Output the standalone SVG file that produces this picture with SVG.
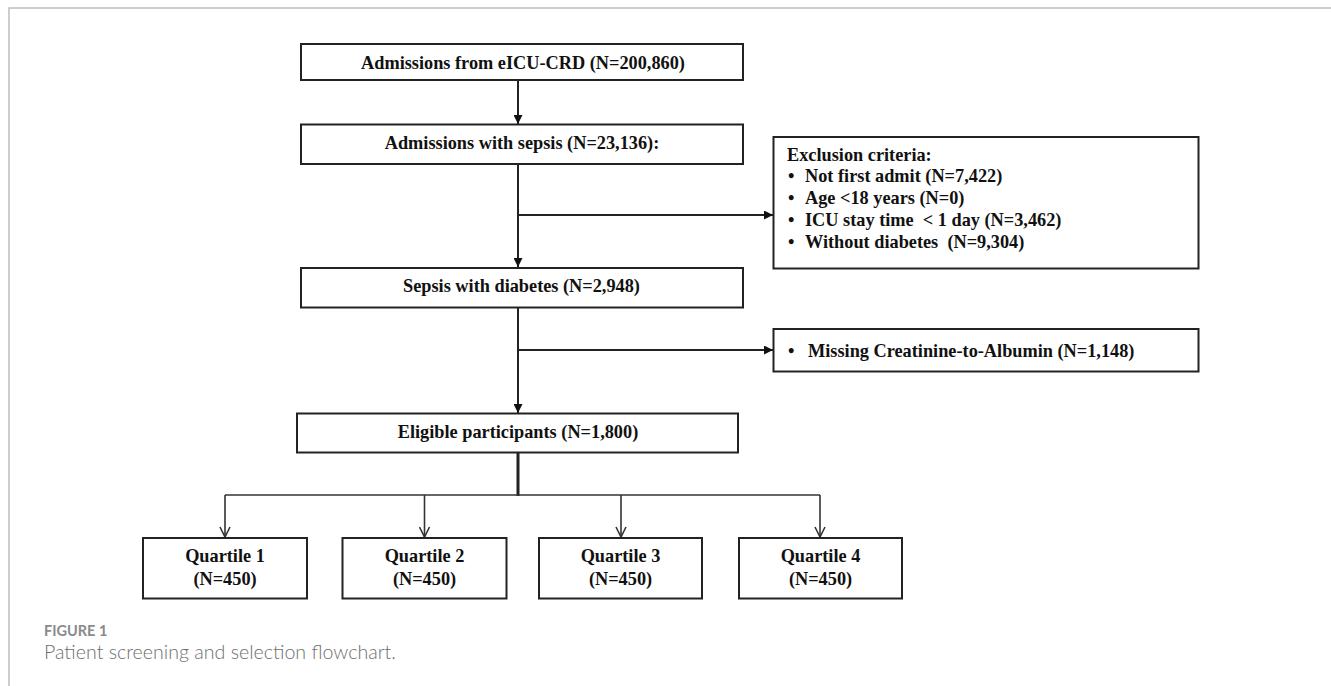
<svg xmlns="http://www.w3.org/2000/svg" width="1331" height="686" viewBox="0 0 1331 686">
<style>
.box{fill:#fff;stroke:#222;stroke-width:2}
.t{font-family:"Liberation Serif","Times New Roman",serif;font-weight:bold;font-size:18.3px;fill:#111}
.c{text-anchor:middle}
.ln{fill:none;stroke:#222;stroke-width:2}
.thin{fill:none;stroke:#333;stroke-width:1.6}
.frame{fill:none;stroke:#bdbdbd;stroke-width:1.5}
.cap1{font-family:Lato,"Open Sans",sans-serif;font-weight:bold;font-size:14.5px;fill:#8a8a8a}
.cap2{font-family:Lato,"Open Sans",sans-serif;font-weight:300;font-size:19.6px;fill:#6e6e6e}
</style>
<defs>
<marker id="fa" markerWidth="9" markerHeight="9" refX="9" refY="4.5" orient="auto" markerUnits="userSpaceOnUse">
<path d="M0,0 L9,4.5 L0,9 Z" fill="#111"/>
</marker>
<marker id="oa" markerWidth="12" markerHeight="12" refX="11" refY="6" orient="auto" markerUnits="userSpaceOnUse">
<path d="M1,1 L11,6 L1,11" fill="none" stroke="#333" stroke-width="1.6"/>
</marker>
</defs>
<rect width="1331" height="686" fill="#fff"/>
<path class="frame" d="M9,686 L9,8 L1331,8"/>

<g id="connectors">
<line class="ln" x1="518" y1="81" x2="518" y2="124" marker-end="url(#fa)"/>
<line class="ln" x1="518" y1="165" x2="518" y2="267" marker-end="url(#fa)"/>
<line class="ln" x1="518" y1="215" x2="773" y2="215" marker-end="url(#fa)"/>
<line class="ln" x1="518" y1="308" x2="518" y2="413" marker-end="url(#fa)"/>
<line class="ln" x1="518" y1="350" x2="773" y2="350" marker-end="url(#fa)"/>
<line x1="518" y1="453" x2="518" y2="496" stroke="#222" stroke-width="3"/>
<line class="thin" x1="225" y1="495" x2="820" y2="495"/>
<line class="thin" x1="225" y1="495" x2="225" y2="537" marker-end="url(#oa)"/>
<line class="thin" x1="424.5" y1="495" x2="424.5" y2="537" marker-end="url(#oa)"/>
<line class="thin" x1="621" y1="495" x2="621" y2="537" marker-end="url(#oa)"/>
<line class="thin" x1="820" y1="495" x2="820" y2="537" marker-end="url(#oa)"/>
</g>

<g id="n1">
<rect class="box" x="301" y="44" width="442" height="36"/>
<text class="t c" x="523" y="69">Admissions from eICU-CRD (N=200,860)</text>
</g>
<g id="n2">
<rect class="box" x="301" y="124.5" width="442" height="39.5"/>
<text class="t c" x="522" y="149">Admissions with sepsis (N=23,136):</text>
</g>
<g id="n3">
<rect class="box" x="773.5" y="137" width="425" height="131.5"/>
<text class="t" x="787" y="161">Exclusion criteria:</text>
<text class="t" x="788" y="182">•</text>
<text class="t" x="805" y="182">Not first admit (N=7,422)</text>
<text class="t" x="788" y="204">•</text>
<text class="t" x="805" y="204">Age &lt;18 years (N=0)</text>
<text class="t" x="788" y="226">•</text>
<text class="t" x="805" y="226" xml:space="preserve">ICU stay time  &lt; 1 day (N=3,462)</text>
<text class="t" x="788" y="248">•</text>
<text class="t" x="805" y="248" xml:space="preserve">Without diabetes  (N=9,304)</text>
</g>
<g id="n4">
<rect class="box" x="301" y="268" width="442" height="39.5"/>
<text class="t c" x="521.5" y="292">Sepsis with diabetes (N=2,948)</text>
</g>
<g id="n5">
<rect class="box" x="773.5" y="329" width="425" height="42.5"/>
<text class="t" x="788" y="357">•</text>
<text class="t" x="808" y="357">Missing Creatinine-to-Albumin (N=1,148)</text>
</g>
<g id="n6">
<rect class="box" x="297" y="413.5" width="441" height="39"/>
<text class="t c" x="518" y="438">Eligible participants (N=1,800)</text>
</g>
<g id="q1">
<rect class="box" x="143" y="538" width="164" height="60.5"/>
<text class="t c" x="225" y="562">Quartile 1</text>
<text class="t c" x="225" y="584.5">(N=450)</text>
</g>
<g id="q2">
<rect class="box" x="342.5" y="538" width="164" height="60.5"/>
<text class="t c" x="424.5" y="562">Quartile 2</text>
<text class="t c" x="424.5" y="584.5">(N=450)</text>
</g>
<g id="q3">
<rect class="box" x="539" y="538" width="163" height="60.5"/>
<text class="t c" x="620.5" y="562">Quartile 3</text>
<text class="t c" x="620.5" y="584.5">(N=450)</text>
</g>
<g id="q4">
<rect class="box" x="739" y="538" width="163" height="60.5"/>
<text class="t c" x="820.5" y="562">Quartile 4</text>
<text class="t c" x="820.5" y="584.5">(N=450)</text>
</g>

<g id="caption">
<text class="cap1" x="44" y="636">FIGURE 1</text>
<text class="cap2" x="44" y="659">Patient screening and selection flowchart.</text>
</g>
</svg>
